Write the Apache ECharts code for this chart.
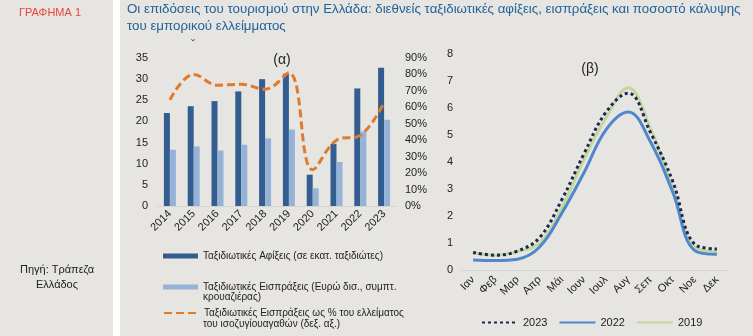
<!DOCTYPE html>
<html><head><meta charset="utf-8">
<script src="https://cdn.jsdelivr.net/npm/echarts@6/dist/echarts.min.js"></script>
<style>html,body{margin:0;padding:0;background:#fff}#c{width:753px;height:336px}</style>
</head><body><div id="c"></div>
<script>
const years = ['2014','2015','2016','2017','2018','2019','2020','2021','2022','2023'];
const arrivals = [22.0, 23.6, 24.8, 27.1, 30.0, 31.3, 7.4, 14.7, 27.8, 32.7];
const receipts = [13.3, 14.1, 13.1, 14.5, 16.0, 18.1, 4.2, 10.4, 17.6, 20.4];
const coverage = [64.5, 80, 73.5, 74, 71, 81, 22, 40, 43, 63];
const leftTicksPct = [0, 10, 20, 30, 40, 50, 60, 70, 80, 90];

const months = ['Ιαν','Φεβ','Μαρ','Απρ','Μάι','Ιουν','Ιουλ','Αυγ','Σεπ','Οκτ','Νοε','Δεκ'];
const m2023 = [0.65, 0.55, 0.7, 1.2, 2.6, 4.3, 5.85, 6.55, 5.1, 3.3, 0.95, 0.78];
const m2022 = [0.37, 0.35, 0.4, 0.85, 2.1, 3.6, 5.2, 5.85, 4.75, 2.9, 0.72, 0.58];
const m2019 = [0.65, 0.55, 0.68, 1.0, 2.3, 4.1, 5.65, 6.75, 5.25, 3.05, 0.85, 0.67];

const legendNames = {
  arr: 'Ταξιδιωτικές Αφίξεις (σε εκατ. ταξιδιώτες)',
  rec: 'Ταξιδιωτικές Εισπράξεις (Ευρώ δισ., συμπτ.',
  cov: 'Ταξιδιωτικές Εισπράξεις ως % του ελλείματος'
};
const legendCont = {
  rec: 'κρουαζιέρας)',
  cov: 'του ισοζυγίουαγαθών (δεξ. αξ.)'
};

const BG = '#e6e5e1';
const FONT = '"Liberation Sans", Arial, sans-serif';
const chart = echarts.init(document.getElementById('c'), null, {renderer: 'canvas'});
const legText = {fontSize: 10, color: '#222', fontFamily: FONT};
const hideSym = {color: 'rgba(0,0,0,0)', borderColor: 'rgba(0,0,0,0)', opacity: 0};

chart.setOption({
  backgroundColor: BG,
  animation: false,
  textStyle: {fontFamily: FONT},
  graphic: [
    {type: 'rect', shape: {x: 113, y: 0, width: 7, height: 336}, style: {fill: '#ffffff'}, silent: true},
    {type: 'text', x: 50, y: 13, style: {text: 'ΓΡΑΦΗΜΑ 1', fill: '#e8453c', fontSize: 11, fontFamily: FONT, align: 'center', verticalAlign: 'middle'}},
    {type: 'text', x: 57, y: 277, style: {text: 'Πηγή: Τράπεζα\nΕλλάδος', fill: '#222', fontSize: 11, lineHeight: 15, fontFamily: FONT, align: 'center', verticalAlign: 'middle'}},
    {type: 'text', x: 127, y: 1, style: {text: 'Οι επιδόσεις του τουρισμού στην Ελλάδα: διεθνείς ταξιδιωτικές αφίξεις, εισπράξεις και ποσοστό κάλυψης\nτου εμπορικού ελλείμματος', fill: '#23629a', fontSize: 13.3, lineHeight: 17, fontFamily: FONT}},
    {type: 'text', x: 282, y: 60, style: {text: '(α)', fill: '#222', fontSize: 14, fontFamily: FONT, align: 'center', verticalAlign: 'middle'}},
    {type: 'text', x: 590, y: 69, style: {text: '(β)', fill: '#222', fontSize: 14, fontFamily: FONT, align: 'center', verticalAlign: 'middle'}},
    {type: 'text', x: 193, y: 46, style: {text: 'ˇ', fill: '#555', fontSize: 12, fontFamily: FONT, align: 'center', verticalAlign: 'middle'}},
    {type: 'text', x: 203, y: 297, style: {text: legendCont.rec, fill: '#222', fontSize: 10, fontFamily: FONT, verticalAlign: 'middle'}},
    {type: 'text', x: 203, y: 324, style: {text: legendCont.cov, fill: '#222', fontSize: 10, fontFamily: FONT, verticalAlign: 'middle'}}
  ],
  grid: [
    {left: 158, right: 357, top: 58, bottom: 130},
    {left: 462, right: 25, top: 54, bottom: 66}
  ],
  legend: [
    {data: ['arr'], orient: 'vertical', left: 163, top: 251, padding: 0, itemWidth: 35, itemHeight: 5, icon: 'rect', itemGap: 0,
      formatter: n => legendNames[n], textStyle: legText},
    {data: ['rec'], orient: 'vertical', left: 163, top: 282, padding: 0, itemWidth: 35, itemHeight: 5, icon: 'rect', itemGap: 0,
      formatter: n => legendNames[n], textStyle: legText},
    {data: ['cov'], orient: 'vertical', left: 163, top: 308, padding: 0, itemWidth: 35, itemHeight: 5, itemGap: 0,
      itemStyle: hideSym, formatter: n => legendNames[n], textStyle: legText},
    {data: ['2023', '2022', '2019'], orient: 'horizontal', left: 481, top: 317, padding: 0, itemWidth: 36, itemHeight: 10, itemGap: 11,
      itemStyle: hideSym, textStyle: {fontSize: 11, color: '#222', fontFamily: FONT}}
  ],
  xAxis: [
    {type: 'category', gridIndex: 0, data: years,
      axisLine: {lineStyle: {color: '#d4d4d4'}}, axisTick: {show: false},
      axisLabel: {rotate: 45, fontSize: 11, color: '#222', margin: 6, interval: 0}},
    {type: 'category', gridIndex: 1, data: months,
      axisLine: {lineStyle: {color: '#d4d4d4'}}, axisTick: {show: false},
      axisLabel: {rotate: 45, fontSize: 11, color: '#222', margin: 8, interval: 0}}
  ],
  yAxis: [
    {type: 'value', gridIndex: 0, min: 0, max: 35, interval: 5, splitLine: {show: false},
      axisLine: {show: false}, axisTick: {show: false},
      axisLabel: {fontSize: 11, color: '#222', margin: 10}},
    {type: 'value', gridIndex: 0, min: 0, max: 90, interval: 10, position: 'right', splitLine: {show: false},
      axisLine: {show: false}, axisTick: {show: false},
      axisLabel: {fontSize: 11, color: '#222', margin: 9, formatter: v => leftTicksPct.includes(v) ? v + '%' : ''}},
    {type: 'value', gridIndex: 1, min: 0, max: 8, interval: 1, splitLine: {show: false},
      axisLine: {show: false}, axisTick: {show: false},
      axisLabel: {fontSize: 11, color: '#222', margin: 9}}
  ],
  series: [
    {name: 'arr', type: 'bar', xAxisIndex: 0, yAxisIndex: 0, data: arrivals, barWidth: 6, barGap: '0%',
      itemStyle: {color: '#335c8f'}},
    {name: 'rec', type: 'bar', xAxisIndex: 0, yAxisIndex: 0, data: receipts, barWidth: 6, barGap: '0%',
      itemStyle: {color: '#95b3d7'}},
    {name: 'cov', type: 'line', xAxisIndex: 0, yAxisIndex: 1, data: coverage, smooth: 0.4, symbol: 'none',
      lineStyle: {color: '#e07a2c', width: 3, type: [8, 4]}, itemStyle: {color: '#e07a2c'}, z: 5},
    {name: '2019', type: 'line', xAxisIndex: 1, yAxisIndex: 2, data: m2019, smooth: 0.4, symbol: 'none',
      lineStyle: {color: '#c4d79b', width: 3}, itemStyle: {color: '#c4d79b'}},
    {name: '2022', type: 'line', xAxisIndex: 1, yAxisIndex: 2, data: m2022, smooth: 0.4, symbol: 'none',
      lineStyle: {color: '#4f87cf', width: 3}, itemStyle: {color: '#4f87cf'}},
    {name: '2023', type: 'line', xAxisIndex: 1, yAxisIndex: 2, data: m2023, smooth: 0.4, symbol: 'none',
      lineStyle: {color: '#1c2556', width: 3, type: [3, 3]}, itemStyle: {color: '#1c2556'}, z: 4}
  ]
});
</script></body></html>
